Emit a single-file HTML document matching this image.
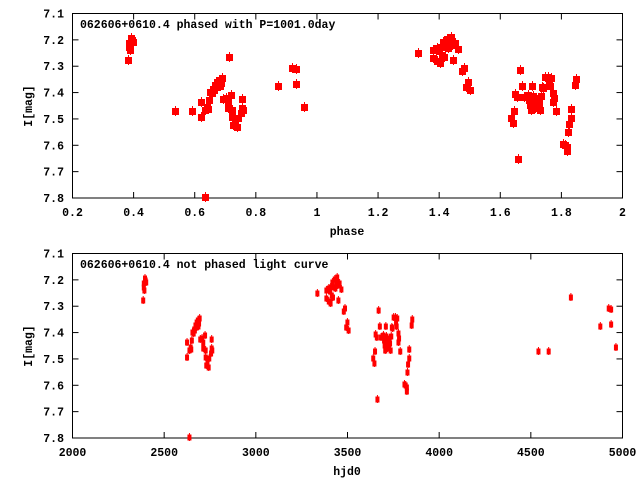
<!DOCTYPE html>
<html><head><meta charset="utf-8"><style>
html,body{margin:0;padding:0;background:#fff;}
svg{display:block;}
text{font-family:"Liberation Mono",monospace;font-weight:bold;font-size:11.5px;fill:#000;}
</style></head><body>
<svg id="s" width="640" height="480" xmlns="http://www.w3.org/2000/svg">
<rect width="640" height="480" fill="#fff"/>
<g id="axes" stroke="#000" stroke-width="1" fill="none">
<rect x="72.5" y="13.5" width="550" height="184.5"/>
<rect x="72.5" y="253.5" width="550" height="184.5"/>
</g>
<g id="ticks" stroke="#000" stroke-width="1"></g>
<g id="labels">
<text x="80" y="28">062606+0610.4 phased with P=1001.0day</text>
<text x="80" y="268">062606+0610.4 not phased light curve</text>
<text x="347" y="235" text-anchor="middle">phase</text>
<text x="347" y="475" text-anchor="middle">hjd0</text>
<text transform="translate(32,106) rotate(-90)" text-anchor="middle">I[mag]</text>
<text transform="translate(32,346) rotate(-90)" text-anchor="middle">I[mag]</text>
</g>
<g id="pts" fill="#f00" stroke="#f00"></g>
</svg>
<script>
var NS="http://www.w3.org/2000/svg";
function el(p,t,a,txt){var e=document.createElementNS(NS,t);for(var k in a)e.setAttribute(k,a[k]);if(txt!==undefined)e.textContent=txt;document.getElementById(p).appendChild(e);return e;}
var mags=["7.1","7.2","7.3","7.4","7.5","7.6","7.7","7.8"];
for(var off of [0,240]){
 for(var i=0;i<8;i++){var y=13.5+off+i*184.5/7;
  el("ticks","line",{x1:72.5,y1:y,x2:78.5,y2:y});el("ticks","line",{x1:622.5,y1:y,x2:616.5,y2:y});
  el("labels","text",{x:64,y:y+4,"text-anchor":"end"},mags[i]);}
}
var px=["0.2","0.4","0.6","0.8","1","1.2","1.4","1.6","1.8","2"];
for(var i=0;i<10;i++){var x=72.5+i*550/9;
 el("ticks","line",{x1:x,y1:198,x2:x,y2:192});el("ticks","line",{x1:x,y1:13.5,x2:x,y2:19.5});
 el("labels","text",{x:x,y:216,"text-anchor":"middle"},px[i]);}
var hx=["2000","2500","3000","3500","4000","4500","5000"];
for(var i=0;i<7;i++){var x=72.5+i*550/6;
 el("ticks","line",{x1:x,y1:438,x2:x,y2:432});el("ticks","line",{x1:x,y1:253.5,x2:x,y2:259.5});
 el("labels","text",{x:x,y:456,"text-anchor":"middle"},hx[i]);}
var D=[[128,60],[129,43],[130,50],[131,38],[133,42],[129,47],[132,40],
[175,111,1],[192,111,1],[201,117],[201,102],[205,110],[207,107],[208,109],[209,100],[210,92],[213,89],[215,85],[217,82],[219,80],[221,83],[222,78],[220,86],[217,87],[214,90],[212,93],
[229,57,1],[223,99],[226,98],[228,102],[231,95],[228,108],[232,110],[232,117],[233,125],[237,127],[235,122],[238,118],[241,113],[242,108],[243,110],[242,99],[205,197],
[278,86,1],[292,68,1],[296,69,1],[296,84,1],[304,107,1],
[418,53],[433,50],[437,48],[440,47],[443,42],[447,39],[451,37],[455,43],[458,49],[448,48],[442,55],[444,57],[433,58],[437,61],[440,63],[453,60],[452,45],[446,47],[450,41],[439,51],
[462,71],[464,68],[468,82],[466,87],[470,90],
[511,118],[513,123],[514,111],[515,94],[517,97],[518,159],[520,70],[522,86],[524,97],
[528,95],[529,100],[530,105],[531,110],[533,96],[534,102],[535,108],[536,100],[537,105],[538,98],[539,103],[540,110],[541,96],[532,86],[542,87],[543,88],
[545,77],[548,77],[551,78],[549,82],[550,86],[553,93],[554,98],[553,102],[556,111],
[563,144],[565,145],[567,147],[567,151],[568,132],[569,124],[571,118],[571,109],[575,85],[576,79]];
for(var d of D){
 var x=d[0],y=d[1];
 el("pts","rect",{x:x-3,y:y-3,width:7,height:7,stroke:"none"});
 el("pts","line",{x1:x+0.5,y1:y-5,x2:x+0.5,y2:y+5,"stroke-width":1});
 var p=0.2+(x-72)*1.8/550; if(d[2])p+=2;
 var h=2002+1001*p; var bx=72+(h-2000)*550/3000, by=y+240;
 el("pts","rect",{x:bx-1.5,y:by-2.5,width:4,height:6,stroke:"none"});
 el("pts","line",{x1:bx+0.5,y1:by-4,x2:bx+0.5,y2:by+4,"stroke-width":1});
}
</script>
</body></html>
